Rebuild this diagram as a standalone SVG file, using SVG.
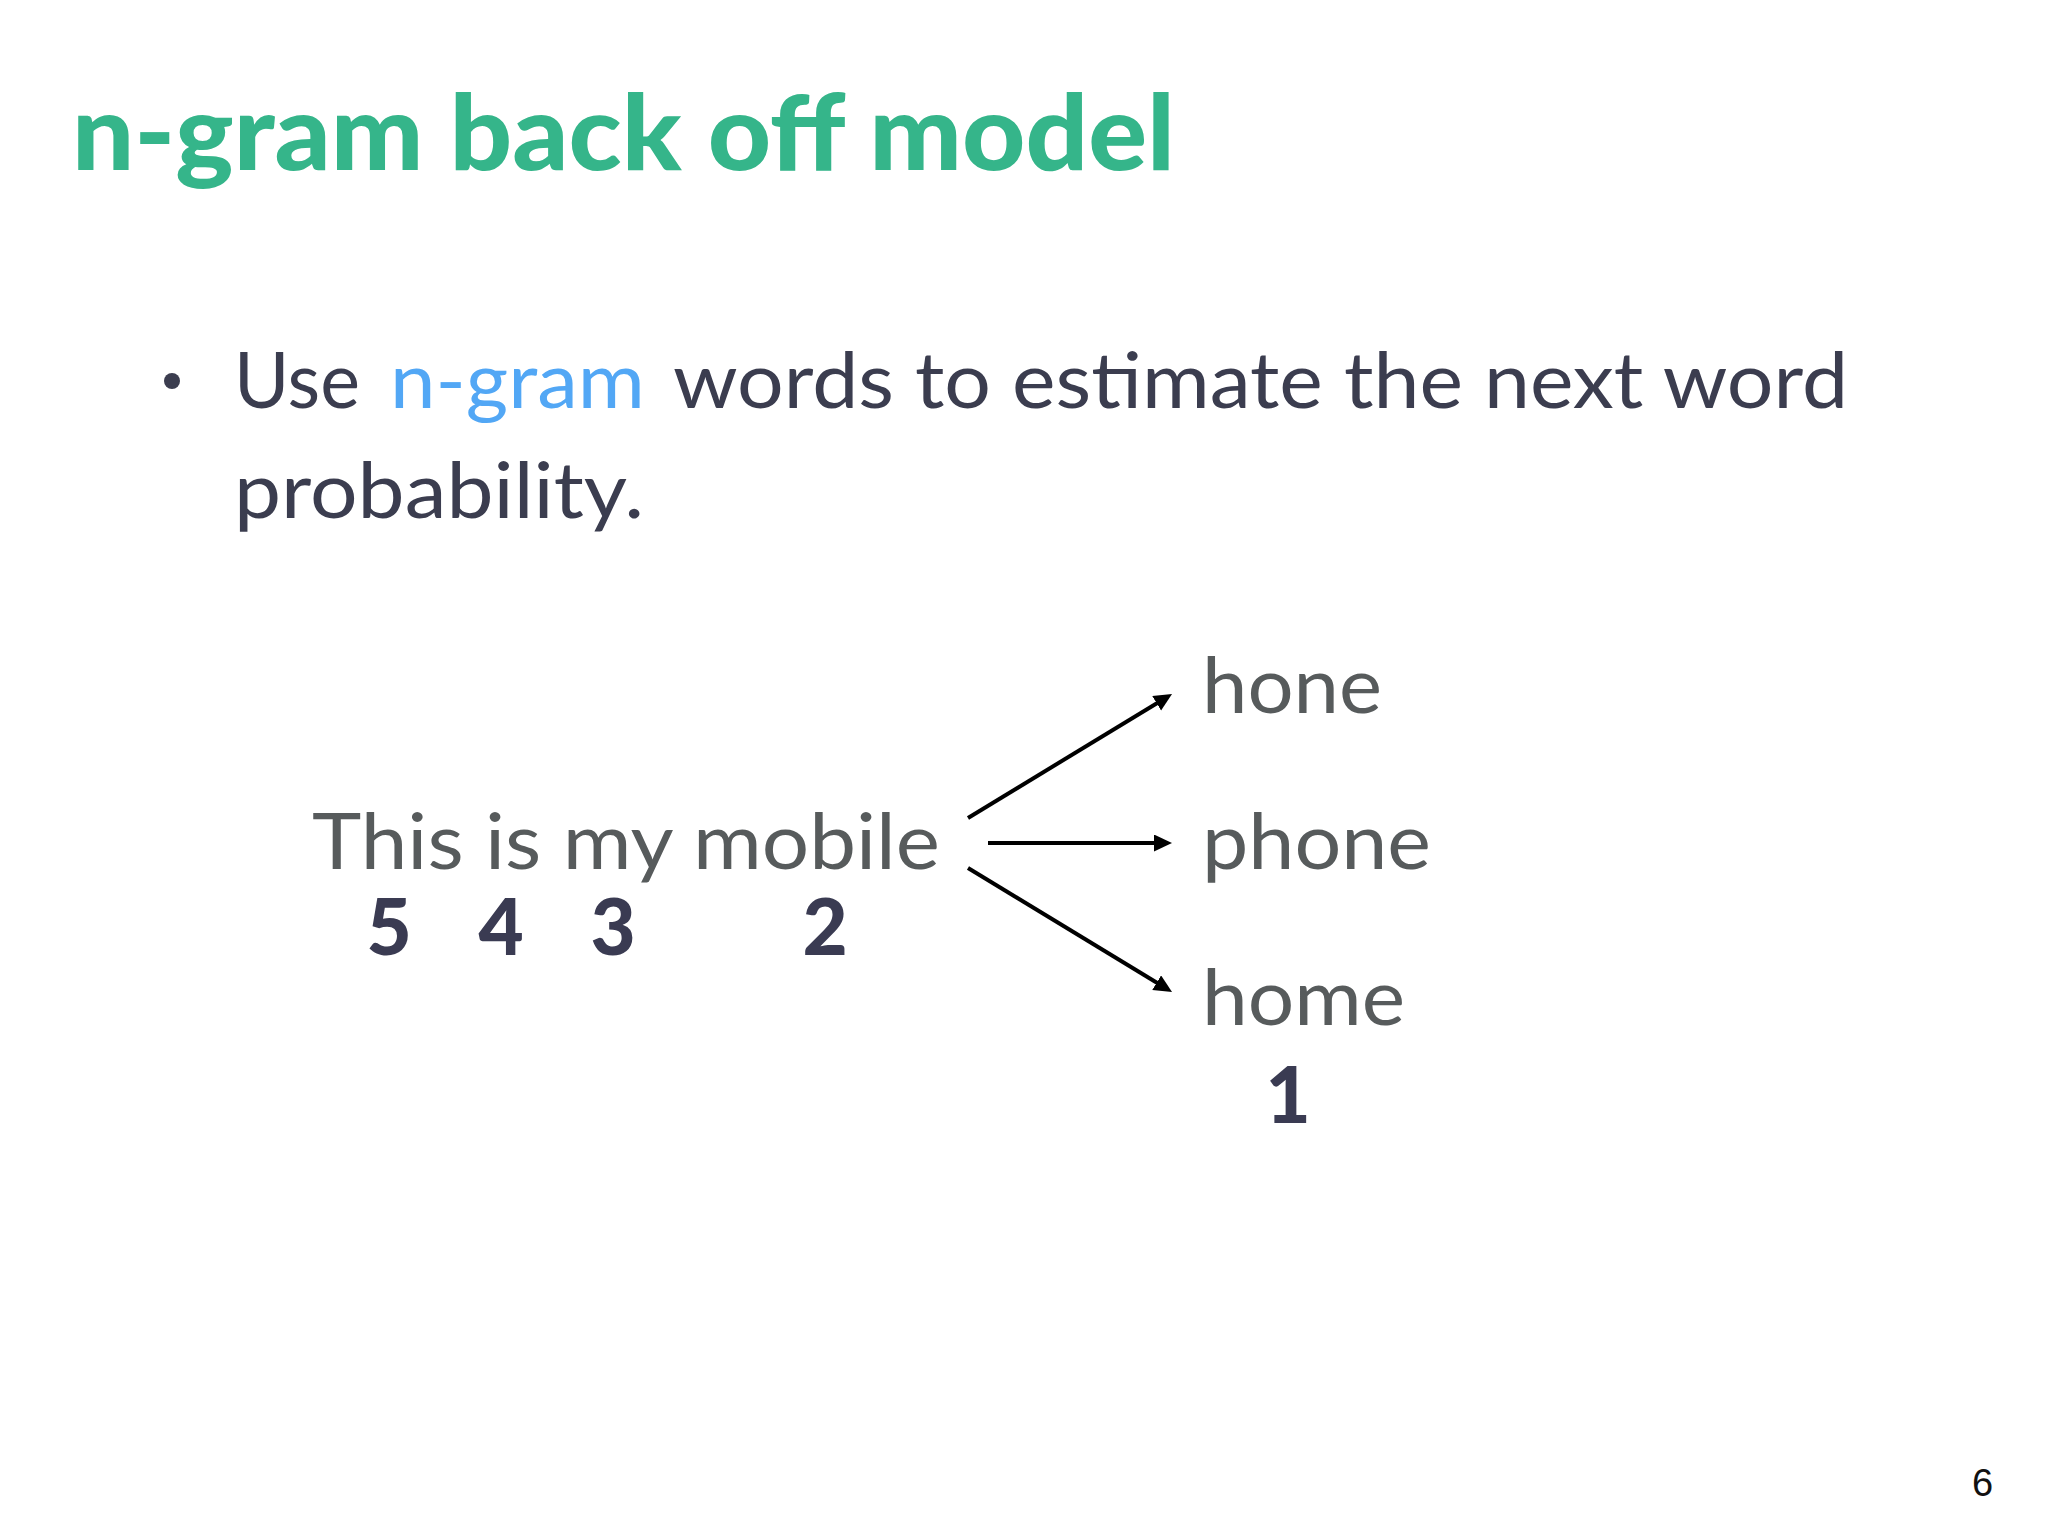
<svg xmlns="http://www.w3.org/2000/svg" width="2048" height="1536" viewBox="0 0 2048 1536">
<style>
.title{font-family:Lato,"Liberation Sans",sans-serif;font-weight:900;font-size:104px;fill:#35b58a}
.body{font-family:Lato,"Liberation Sans",sans-serif;font-size:78px;fill:#3b3d4f}
.blue{fill:#52a7f5}
.word{font-family:Lato,"Liberation Sans",sans-serif;font-size:78px;fill:#575b5c}
.num{font-family:Lato,"Liberation Sans",sans-serif;font-weight:900;font-size:78px;fill:#3a3b52;text-anchor:middle}
.page{font-family:"Liberation Sans",sans-serif;font-size:38px;fill:#111}
.conn{stroke:#000;stroke-width:4;fill:none;marker-end:url(#arrow)}
</style>
<defs>
<marker id="arrow" markerUnits="userSpaceOnUse" markerWidth="20" markerHeight="18" refX="8" refY="8.5" orient="auto">
<path d="M0,0 L18,8.5 L0,17 z" fill="#000"/>
</marker>
</defs>
<rect width="2048" height="1536" fill="#ffffff"/>
<g id="title">
<text class="title" x="72" y="170" textLength="1103" lengthAdjust="spacingAndGlyphs">n-gram back off model</text>
</g>
<g id="bullet">
<circle cx="172" cy="381" r="8" fill="#3b3d4f"/>
<text class="body" x="234" y="408" textLength="126" lengthAdjust="spacingAndGlyphs">Use</text>
<text class="body blue" x="390" y="408" textLength="255" lengthAdjust="spacingAndGlyphs">n-gram</text>
<text class="body" x="673" y="408" textLength="1175" lengthAdjust="spacingAndGlyphs">words to estimate the next word</text>
<text class="body" x="234" y="518" textLength="410" lengthAdjust="spacingAndGlyphs">probability.</text>
</g>
<g id="sentence">
<text class="word" x="312" y="869" textLength="628" lengthAdjust="spacingAndGlyphs">This is my mobile</text>
<text class="num" x="389" y="955">5</text>
<text class="num" x="501" y="955">4</text>
<text class="num" x="613" y="955">3</text>
<text class="num" x="825" y="955">2</text>
</g>
<g id="hone">
<text class="word" x="1202" y="713" textLength="180" lengthAdjust="spacingAndGlyphs">hone</text>
</g>
<g id="phone">
<text class="word" x="1202" y="869" textLength="229" lengthAdjust="spacingAndGlyphs">phone</text>
</g>
<g id="home">
<text class="word" x="1202" y="1025" textLength="203" lengthAdjust="spacingAndGlyphs">home</text>
<text class="num" x="1288" y="1123">1</text>
</g>
<g id="connectors">
<line class="conn" x1="968" y1="818" x2="1163.5" y2="699.2"/>
<line class="conn" x1="988" y1="843" x2="1162" y2="843"/>
<line class="conn" x1="968" y1="868" x2="1163.5" y2="986.8"/>
</g>
<g id="page">
<text class="page" x="1972" y="1496">6</text>
</g>
</svg>
